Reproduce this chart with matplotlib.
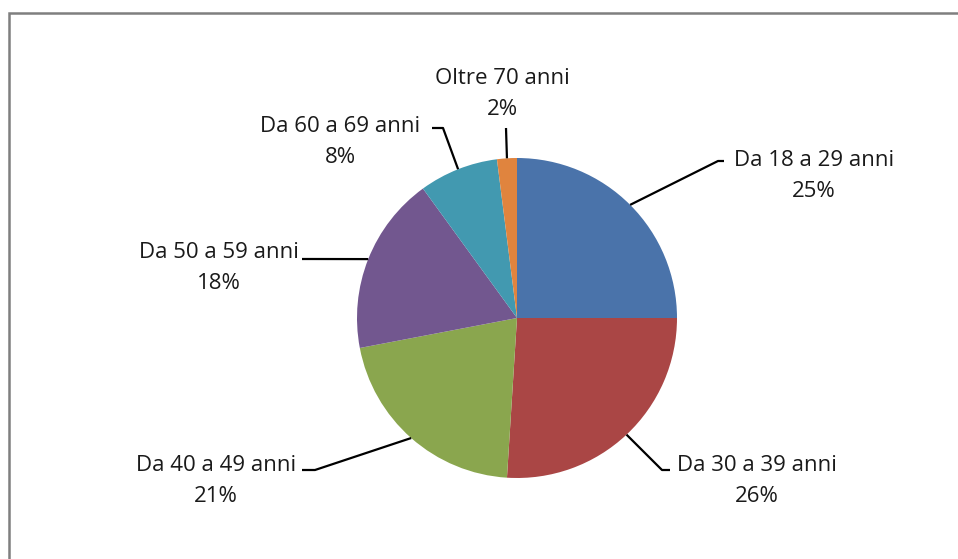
import numpy as np
import matplotlib
matplotlib.use("Agg")
import matplotlib.pyplot as plt

# Age groups and their share (%)
categories = ["Da 18 a 29 anni", "Da 30 a 39 anni", "Da 40 a 49 anni",
              "Da 50 a 59 anni", "Da 60 a 69 anni", "Oltre 70 anni"]
shares = [25, 26, 21, 18, 8, 2]
colors = ["#4A73AA", "#AA4645", "#8AA64E", "#72578F", "#4299B0", "#E0843E"]

W, H = 958, 559
cx, cy, r = 517, 318, 160  # pie centre / radius in pixels (y from top)

# label placement: text centre, elbow of the leader, end of the leader
label_pos = [(814, 176), (757, 481), (216, 481), (219, 268), (340, 142), (502, 94)]
elbows = [(718, 161), (662, 470), (315, 470), (310, 259), (443, 128), (506, 128)]
ends = [(724, 161), (670, 470), (302, 470), (302, 259), (432, 128), (506, 128)]


def fy(y):
    # pixel row -> data y
    return H - y


fig = plt.figure(figsize=(W / 100, H / 100), dpi=100)
ax = fig.add_axes([0, 0, 1, 1])

ax.pie(shares, colors=colors, startangle=90, counterclock=False,
       center=(cx, fy(cy)), radius=r, wedgeprops=dict(linewidth=0))
ax.set_xlim(0, W)
ax.set_ylim(0, H)
ax.set_aspect("equal")
ax.axis("off")

# leader lines start on the rim at each wedge's middle angle
cum = np.cumsum([0] + shares)
for i, name in enumerate(categories):
    mid = (cum[i] + cum[i + 1]) / 2 / cum[-1] * 360
    x0 = cx + r * np.sin(np.radians(mid))
    y0 = cy - r * np.cos(np.radians(mid))
    xs = [x0, elbows[i][0], ends[i][0]]
    ys = [fy(y0), fy(elbows[i][1]), fy(ends[i][1])]
    ax.plot(xs, ys, color="black", lw=1.6, solid_capstyle="butt")
    tx, ty = label_pos[i]
    ax.text(tx, fy(ty), f"{name}\n{shares[i]}%", ha="center", va="center",
            multialignment="center", fontsize=16, family="Open Sans",
            color="#1a1a1a", linespacing=1.6)

# chart area frame
ax.plot([9, 9, W], [0, fy(13), fy(13)], color="#7f7f7f", lw=1.8,
        solid_joinstyle="miter")

fig.savefig("out.png", dpi=100)
